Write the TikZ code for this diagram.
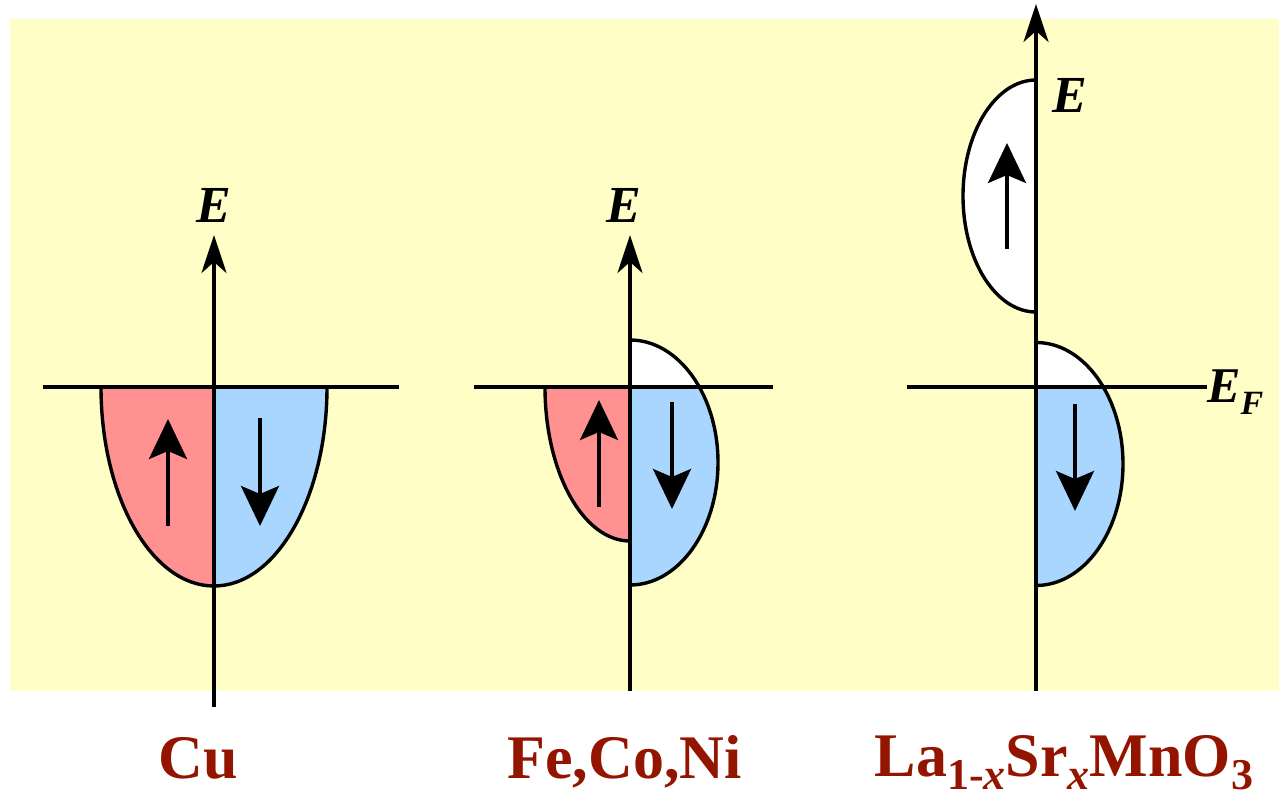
\documentclass[tikz,border=0pt]{standalone}
\usepackage{fontspec}
\setmainfont{Liberation Serif}
\usetikzlibrary{arrows.meta}
\definecolor{bgyellow}{RGB}{255,254,198}
\definecolor{upred}{RGB}{255,145,145}
\definecolor{dnblue}{RGB}{168,214,255}
\definecolor{labred}{RGB}{147,21,0}
\newcommand{\subsz}[1]{\raisebox{-13bp}{\fontsize{44bp}{44bp}\selectfont #1}}
\begin{document}
\begin{tikzpicture}[x=1bp,y=-1bp,
  axisline/.style={draw=black, line width=3.3bp, -{Stealth[length=38bp,width=25bp,inset=11bp]}},
  spin/.style={draw=black, line width=3.6bp, -{Stealth[length=40bp,width=38bp,inset=8bp]}},
  band/.style={draw=black, line width=3.4bp},
  efline/.style={draw=black, line width=3.3bp},
  elab/.style={font=\fontsize{52bp}{52bp}\selectfont\bfseries\itshape, inner sep=0pt, anchor=base},
  mlab/.style={font=\fontsize{62bp}{62bp}\selectfont\bfseries, text=labred, inner sep=0pt, anchor=base}]

\useasboundingbox (0,0) rectangle (1279,798);
\fill[bgyellow] (10,19) rectangle (1279,691);

% ---------- Cu ----------
\fill[upred] (214,387) -- (101,387) arc[start angle=180,end angle=90,x radius=113,y radius=199] -- cycle;
\fill[dnblue] (214,387) -- (327,387) arc[start angle=0,end angle=90,x radius=113,y radius=199] -- cycle;
\coordinate (cuL) at (43,387);
\coordinate (cuR) at (399,387);
\draw[efline] (cuL) -- (cuR);
\draw[band] (101,387) arc[start angle=180,end angle=0,x radius=113,y radius=199];
\coordinate (cuB) at (214,707);
\coordinate (cuT) at (214,235);
\draw[axisline] (cuB) -- (cuT);
\coordinate (cuU1) at (168,526); \coordinate (cuU2) at (168,419);
\coordinate (cuD1) at (260,418); \coordinate (cuD2) at (260,526);
\draw[spin] (cuU1) -- (cuU2);
\draw[spin] (cuD1) -- (cuD2);
\node[elab] (cuE) at (214,222) {E};
\node[mlab] (cuLab) at (198.5,778) {Cu};

% ---------- Fe, Co, Ni ----------
\fill[upred] (630,387) -- (545,387) arc[start angle=180,end angle=90,x radius=85,y radius=154] -- cycle;
\begin{scope}
  \clip (630,387) rectangle (760,600);
  \fill[dnblue] (630,340) arc[start angle=-90,end angle=90,x radius=88,y radius=122.5] -- cycle;
\end{scope}
\begin{scope}
  \clip (630,320) rectangle (760,387);
  \fill[white] (630,340) arc[start angle=-90,end angle=90,x radius=88,y radius=122.5] -- cycle;
\end{scope}
\coordinate (feL) at (474,387);
\coordinate (feR) at (773,387);
\draw[efline] (feL) -- (feR);
\draw[band] (545,387) arc[start angle=180,end angle=90,x radius=85,y radius=154];
\draw[band] (630,340) arc[start angle=-90,end angle=90,x radius=88,y radius=122.5];
\coordinate (feB) at (630,691);
\coordinate (feT) at (630,235);
\draw[axisline] (feB) -- (feT);
\coordinate (feU1) at (599,507); \coordinate (feU2) at (599,400);
\coordinate (feD1) at (672,402); \coordinate (feD2) at (672,509);
\draw[spin] (feU1) -- (feU2);
\draw[spin] (feD1) -- (feD2);
\node[elab] (feE) at (624,222) {E};
\node[mlab] (feLab) at (624.5,778) {Fe,Co,Ni};

% ---------- La(1-x)Sr(x)MnO3 ----------
\fill[white] (1036,80) arc[start angle=-90,end angle=-270,x radius=73,y radius=116] -- cycle;
\begin{scope}
  \clip (1036,387) rectangle (1160,600);
  \fill[dnblue] (1036,342.5) arc[start angle=-90,end angle=90,x radius=87,y radius=121.5] -- cycle;
\end{scope}
\begin{scope}
  \clip (1036,320) rectangle (1160,387);
  \fill[white] (1036,342.5) arc[start angle=-90,end angle=90,x radius=87,y radius=121.5] -- cycle;
\end{scope}
\coordinate (laL) at (907,387);
\coordinate (laR) at (1207,387);
\draw[efline] (laL) -- (laR);
\draw[band] (1036,80) arc[start angle=-90,end angle=-270,x radius=73,y radius=116];
\draw[band] (1036,342.5) arc[start angle=-90,end angle=90,x radius=87,y radius=121.5];
\coordinate (laB) at (1036,691);
\coordinate (laT) at (1036,4);
\draw[axisline] (laB) -- (laT);
\coordinate (laU1) at (1007,249); \coordinate (laU2) at (1007,143);
\coordinate (laD1) at (1075,404); \coordinate (laD2) at (1075,511);
\draw[spin] (laU1) -- (laU2);
\draw[spin] (laD1) -- (laD2);
\node[elab] (laE) at (1070,113) {E};
\node[elab, anchor=base west, font=\fontsize{50bp}{50bp}\selectfont\bfseries\itshape] (laEF) at (1207,402) {E\raisebox{-12bp}{\fontsize{34bp}{34bp}\selectfont F}};
\node[mlab] (laLab) at (1064,776) {La\subsz{1-\textit{x}}Sr\subsz{\textit{x}}MnO\subsz{3}};
\end{tikzpicture}
\end{document}
